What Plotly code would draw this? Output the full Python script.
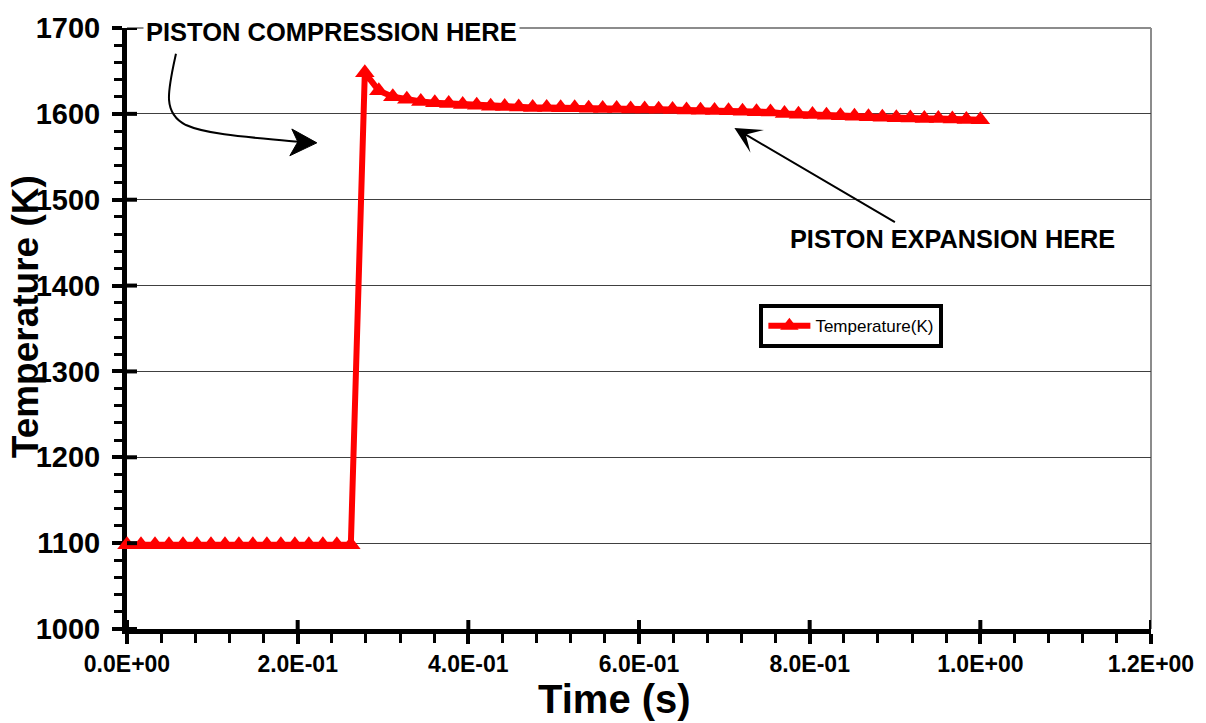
import plotly.graph_objects as go

# Simulated cylinder gas temperature over one cycle
time_s = [
    0.0000, 0.0164, 0.0328, 0.0492, 0.0656, 0.0820, 0.0984, 0.1148, 0.1311, 0.1475,
    0.1639, 0.1803, 0.1967, 0.2131, 0.2295, 0.2459, 0.2623, 0.2787, 0.2951, 0.3115,
    0.3279, 0.3443, 0.3607, 0.3770, 0.3934, 0.4098, 0.4262, 0.4426, 0.4590, 0.4754,
    0.4918, 0.5082, 0.5246, 0.5410, 0.5574, 0.5738, 0.5902, 0.6066, 0.6230, 0.6393,
    0.6557, 0.6721, 0.6885, 0.7049, 0.7213, 0.7377, 0.7541, 0.7705, 0.7869, 0.8033,
    0.8197, 0.8361, 0.8525, 0.8689, 0.8852, 0.9016, 0.9180, 0.9344, 0.9508, 0.9672,
    0.9836, 1.0000,
]
temperature_k = [
    1098, 1098, 1098, 1098, 1098, 1098, 1098, 1098, 1098, 1098,
    1098, 1098, 1098, 1098, 1098, 1098, 1098, 1648, 1627, 1620,
    1617, 1614.5, 1613, 1612, 1611, 1610, 1609, 1608.5, 1608, 1607.5,
    1607.3, 1607.2, 1607, 1606.5, 1606.3, 1606.2, 1605.8, 1605.6, 1605.3, 1605,
    1604.4, 1604.2, 1603.8, 1603.5, 1603, 1602.5, 1602.2, 1600.3, 1599.6, 1599.2,
    1598.5, 1597.8, 1597.3, 1596.6, 1596.1, 1595.5, 1595.3, 1594.7, 1594.5, 1593.9,
    1593.5, 1593.1,
]
series_name = "Temperature(K)"

x_tickvals = [0.0, 0.2, 0.4, 0.6, 0.8, 1.0, 1.2]
x_ticktext = ["0.0E+00", "2.0E-01", "4.0E-01", "6.0E-01", "8.0E-01", "1.0E+00", "1.2E+00"]
y_tickvals = [1000, 1100, 1200, 1300, 1400, 1500, 1600, 1700]

# Page geometry (pixels)
W, H = 1206, 723
L, R, T, B = 127, 54, 22, 94
PW, PH = W - L - R, H - T - B


def px(xp):
    return (xp - L) / PW


def py(yp):
    return (T + PH - yp) / PH


FONT = "Liberation Sans, Arial, sans-serif"

fig = go.Figure()
fig.add_trace(go.Scatter(
    x=time_s, y=temperature_k, name=series_name, mode="lines+markers",
    line=dict(color="#ff0000", width=6),
    marker=dict(symbol="triangle-up", size=17, color="#ff0000"),
    cliponaxis=False,
))

shapes = []
# plot-area frame (top and right)
shapes.append(dict(type="line", xref="paper", yref="paper", x0=0, x1=1, y0=1, y1=1,
                   line=dict(color="#8c8c8c", width=2), layer="below"))
shapes.append(dict(type="line", xref="paper", yref="paper", x0=1, x1=1, y0=0, y1=1,
                   line=dict(color="#8c8c8c", width=2), layer="below"))
# inner half of the major ticks (cross-style tick marks)
for v in y_tickvals:
    shapes.append(dict(type="line", xref="paper", xsizemode="pixel", xanchor=0, x0=0, x1=10,
                       yref="y", y0=v, y1=v, line=dict(color="black", width=4)))
for v in x_tickvals:
    shapes.append(dict(type="line", yref="paper", ysizemode="pixel", yanchor=0, y0=0, y1=9,
                       xref="x", x0=v, x1=v, line=dict(color="black", width=4)))
# curved pointer to the compression jump
shapes.append(dict(type="path", xref="paper", yref="paper",
                   path=(f"M {px(176)},{py(48)} C {px(168)},{py(85)} {px(162)},{py(108)} {px(186)},{py(120)} "
                         f"C {px(210)},{py(131)} {px(262)},{py(133)} {px(300)},{py(137)}"),
                   line=dict(color="black", width=2)))
shapes.append(dict(type="path", xref="paper", yref="paper",
                   path=(f"M {px(317)},{py(138)} L {px(292)},{py(124)} L {px(298)},{py(137)} "
                         f"L {px(290)},{py(151)} Z"),
                   fillcolor="black", line=dict(color="black", width=1)))

annotations = [
    dict(text="PISTON COMPRESSION HERE", xref="paper", yref="paper", x=px(143), y=py(26.5),
         xanchor="left", yanchor="middle", showarrow=False, bgcolor="white", borderpad=2,
         font=dict(family=FONT, size=25.5, color="black", weight="bold")),
    dict(text="PISTON EXPANSION HERE", xref="paper", yref="paper", x=px(789), y=py(235),
         xanchor="left", yanchor="middle", showarrow=False,
         font=dict(family=FONT, size=25.3, color="black", weight="bold")),
    dict(text="", xref="paper", yref="paper", x=px(735), y=py(123), ax=162, ay=95,
         showarrow=True, arrowhead=3, arrowsize=2.2, arrowwidth=2, arrowcolor="black",
         standoff=0),
    dict(text="Time (s)", xref="paper", yref="paper", x=px(615), y=py(700),
         xanchor="center", yanchor="middle", showarrow=False,
         font=dict(family=FONT, size=40, color="black", weight="bold")),
    dict(text="Temperature (K)", xref="paper", yref="paper", x=px(25), y=py(314),
         xanchor="center", yanchor="middle", showarrow=False, textangle=-90,
         font=dict(family=FONT, size=37, color="black", weight="bold")),
]

fig.update_layout(
    width=W, height=H, margin=dict(l=L, r=R, t=T, b=B),
    paper_bgcolor="white", plot_bgcolor="white",
    showlegend=True,
    legend=dict(x=px(760), y=py(301), xanchor="left", yanchor="top",
                bgcolor="white", bordercolor="black", borderwidth=4, itemwidth=42,
                font=dict(family=FONT, size=17, color="black")),
    shapes=shapes, annotations=annotations,
    xaxis=dict(range=[0, 1.2], tickvals=x_tickvals, ticktext=x_ticktext,
               showline=True, linecolor="black", linewidth=5, layer="below traces",
               ticks="outside", ticklen=10, tickwidth=4, tickcolor="black",
               minor=dict(dtick=0.04, ticks="outside", ticklen=9, tickwidth=3, tickcolor="black"),
               showgrid=False, zeroline=False, ticklabelstandoff=0,
               tickfont=dict(family=FONT, size=23, color="black", weight="bold")),
    yaxis=dict(range=[1000, 1700], tickvals=y_tickvals,
               showline=True, linecolor="black", linewidth=5, layer="below traces",
               ticks="outside", ticklen=10, tickwidth=4, tickcolor="black",
               minor=dict(dtick=20, ticks="outside", ticklen=8, tickwidth=3, tickcolor="black"),
               showgrid=True, gridcolor="#404040", gridwidth=1, zeroline=False,
               ticklabelstandoff=6,
               tickfont=dict(family=FONT, size=29, color="black", weight="bold")),
)

fig.write_html("out.html")
